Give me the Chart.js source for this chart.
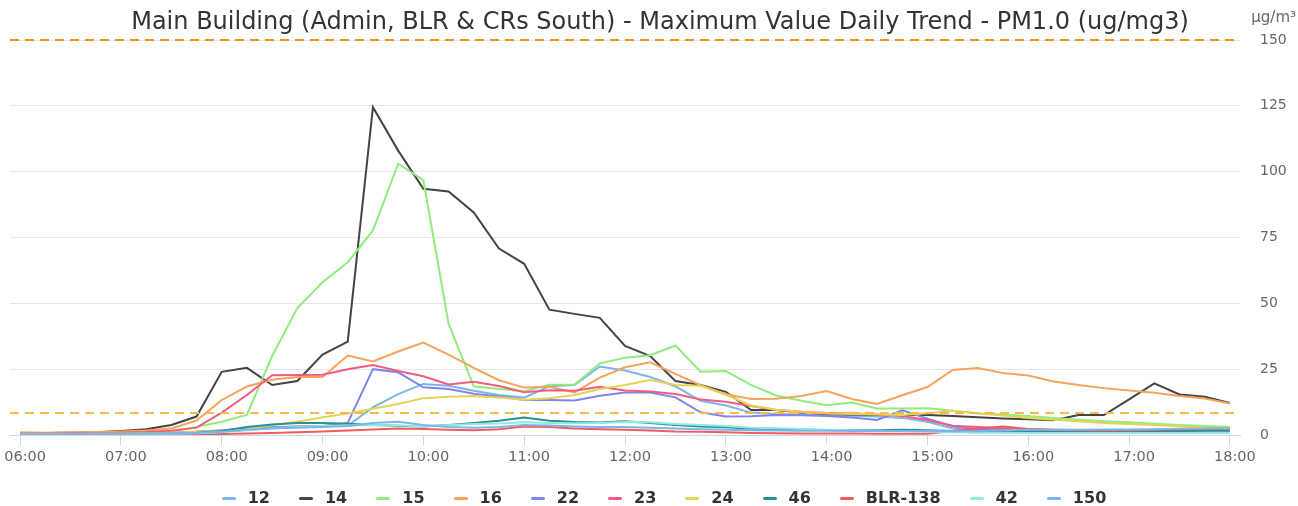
<!DOCTYPE html>
<html>
<head>
<meta charset="utf-8">
<title>PM1.0 Daily Trend</title>
<script src="https://cdn.jsdelivr.net/npm/chart.js@4.4.1/dist/chart.umd.min.js"></script>
<style>
  html, body { margin: 0; padding: 0; background: #fff; }
  #wrap { position: relative; width: 1298px; height: 506px; }
  #legend {
    position: absolute; left: 30px; right: 0; top: 489px;
    display: flex; justify-content: center; gap: 29px;
    font: bold 16px "DejaVu Sans", sans-serif; color: #333;
  }
  .item { display: flex; align-items: center; line-height: 18px; }
  .swatch { width: 14px; height: 3px; border-radius: 2px; margin-right: 12px; }
</style>
</head>
<body>
<div id="wrap">
  <canvas id="chart" width="1298" height="506"></canvas>
  <div id="legend"></div>
</div>
<script>
// 15 minute readings, 06:00 .. 18:00
const times = [
  '06:00','06:15','06:30','06:45','07:00','07:15','07:30','07:45',
  '08:00','08:15','08:30','08:45','09:00','09:15','09:30','09:45',
  '10:00','10:15','10:30','10:45','11:00','11:15','11:30','11:45',
  '12:00','12:15','12:30','12:45','13:00','13:15','13:30','13:45',
  '14:00','14:15','14:30','14:45','15:00','15:15','15:30','15:45',
  '16:00','16:15','16:30','16:45','17:00','17:15','17:30','17:45',
  '18:00'
];

const yTicks = [0, 25, 50, 75, 100, 125, 150];
const upperLimit = 150;
const lowerLimit = 8.5;

const sensor12 = [0.4,0.4,0.5,0.5,0.6,0.7,0.9,1.2, 1.8,2.5,3.0,3.2,3.3,3.6,10.5,15.5,
  19.4,18.7,16.8,15.2,14.2,18.5,19.0,26.0, 24.5,22.0,18.5,13.0,11.2,8.5,8.0,7.8,
  7.6,7.3,7.0,6.5,5.0,2.5,1.8,1.6, 1.5,1.4,1.4,1.4,1.4,1.5,1.6,1.7, 1.8];
const sensor14 = [0.8,0.8,0.9,1.0,1.5,2.2,3.8,7.0, 24.0,25.5,19.0,20.5,30.5,35.5,124.5,108.0,
  93.5,92.5,84.5,70.8,65.0,47.6,46.0,44.5, 33.8,30.0,20.5,19.0,16.4,9.5,9.5,8.5,
  8.0,7.8,7.6,7.6,7.6,7.2,6.7,6.3, 6.0,5.6,7.6,7.6,13.5,19.6,15.4,14.5, 12.2];
const sensor15 = [0.5,0.5,0.6,0.7,0.8,1.0,1.3,3.0, 5.0,7.6,30.0,48.2,58.0,65.6,77.7,103.0,
  96.8,42.3,18.5,17.5,16.6,19.1,19.2,27.2, 29.3,30.3,34.0,24.0,24.3,19.0,15.0,13.0,
  11.3,12.3,10.1,10.1,10.2,9.2,8.2,7.8, 7.2,6.5,5.8,5.2,4.8,4.3,3.8,3.4, 3.0];
const sensor16 = [1.0,0.9,1.0,1.1,1.3,1.7,2.5,5.5, 13.3,18.4,21.0,22.0,22.0,30.2,27.9,31.7,
  35.1,30.5,25.5,20.8,18.0,18.3,16.2,21.8, 25.7,27.6,23.2,18.9,15.5,13.7,13.8,14.8,
  16.7,13.7,11.8,15.1,18.2,24.7,25.4,23.5, 22.6,20.3,19.0,17.8,16.9,16.0,14.8,13.9, 12.0];
const sensor22 = [0.3,0.3,0.4,0.5,0.6,0.7,0.9,1.2, 1.6,2.2,2.8,3.2,3.4,4.6,25.0,23.8,
  18.1,17.5,15.7,14.6,13.3,13.3,13.1,14.9, 16.1,16.1,14.3,8.6,7.0,7.1,7.6,7.5,
  7.2,6.6,5.7,9.4,6.2,3.2,2.3,2.1, 2.0,1.9,1.8,1.8,1.8,1.9,2.0,2.1, 2.2];
const sensor23 = [0.5,0.5,0.6,0.7,0.9,1.1,1.6,2.8, 8.5,15.2,22.7,22.8,22.9,25.0,26.6,24.3,
  22.3,19.2,20.2,18.6,16.2,17.0,16.8,18.3, 16.9,16.5,15.6,13.5,12.6,11.0,9.5,8.8,
  8.4,8.2,7.8,7.2,5.7,3.5,3.0,2.6, 2.2,2.0,1.9,1.8,1.8,1.8,1.9,2.0, 2.0];
const sensor24 = [0.3,0.3,0.4,0.5,0.6,0.7,0.9,1.2, 1.6,2.2,3.8,5.0,6.7,8.2,10.0,11.8,
  14.0,14.5,14.8,14.2,13.4,14.0,15.2,17.5, 19.0,20.9,19.0,18.7,15.3,11.2,9.6,8.8,
  8.2,8.0,7.8,7.6,8.3,9.2,8.3,7.4, 6.5,5.8,5.2,4.6,4.2,3.8,3.3,2.8, 2.4];
const sensor46 = [0.2,0.2,0.3,0.3,0.4,0.5,0.6,0.9, 1.5,3.0,4.0,4.6,4.6,4.3,3.8,3.5,
  3.2,3.8,4.6,5.4,6.6,5.4,4.9,4.7, 5.2,4.6,3.8,3.2,2.9,2.4,2.2,2.0,
  1.9,1.9,1.8,2.0,1.8,1.5,1.4,1.4, 1.3,1.3,1.3,1.3,1.4,1.5,1.5,1.6, 1.6];
const sensorBLR138 = [0.1,0.1,0.1,0.2,0.2,0.2,0.3,0.3, 0.4,0.6,0.8,1.0,1.3,1.7,2.1,2.5,
  2.3,2.0,1.8,2.2,3.2,3.0,2.5,2.2, 2.0,1.7,1.3,1.2,1.0,0.8,0.7,0.6,
  0.6,0.6,0.5,0.5,0.5,1.5,2.5,3.2, 2.3,1.9,1.8,1.7,1.8,2.0,2.2,2.3, 2.4];
const sensor42 = [0.2,0.2,0.2,0.3,0.3,0.4,0.5,0.7, 1.0,1.8,2.5,3.0,3.4,3.6,3.8,3.6,
  3.3,3.8,4.2,4.4,4.8,4.6,4.5,4.6, 4.9,4.8,4.2,3.8,3.4,2.8,2.6,2.3,
  2.0,1.8,1.6,1.4,1.2,1.0,0.9,0.9, 0.8,0.8,0.8,0.8,0.8,0.8,0.8,0.8, 0.8];
const sensor150 = [0.2,0.2,0.3,0.3,0.4,0.5,0.6,0.8, 1.2,2.0,2.6,2.8,3.0,3.4,4.6,5.0,
  3.8,3.0,2.8,3.0,3.8,3.6,3.2,3.0, 3.0,2.8,2.5,2.2,2.0,1.8,1.7,1.6,
  1.6,1.5,1.5,1.5,1.5,1.4,1.4,1.8, 2.0,2.0,2.0,2.1,2.1,2.2,2.4,2.5, 2.5];

const seriesNames = ['12', '14', '15', '16', '22', '23', '24', '46', 'BLR-138', '42', '150'];
const seriesValues = [sensor12, sensor14, sensor15, sensor16, sensor22, sensor23,
  sensor24, sensor46, sensorBLR138, sensor42, sensor150];
const seriesColors = ['#7cb5ec', '#434348', '#90ed7d', '#f7a35c', '#8085e9', '#f15c80',
  '#e4d354', '#2b908f', '#f45b5b', '#91e8e1', '#7cb5ec'];

const FONT = '"DejaVu Sans", sans-serif';

// title, unit and the two dashed limit lines
const decorations = {
  id: 'decorations',
  afterDatasetsDraw(chart) {
    const {ctx, chartArea} = chart;
    const y = chart.scales.y;
    const limits = [[upperLimit, '#f5921e'], [lowerLimit, '#fdb84c']];
    ctx.save();
    ctx.lineWidth = 2;
    ctx.setLineDash([9, 6]);
    limits.forEach(([v, c]) => {
      const py = Math.round(y.getPixelForValue(v));
      ctx.strokeStyle = c;
      ctx.beginPath();
      ctx.moveTo(chartArea.left, py);
      ctx.lineTo(chartArea.right, py);
      ctx.stroke();
    });
    ctx.restore();
  },
  afterDraw(chart) {
    const {ctx} = chart;
    ctx.save();
    ctx.textBaseline = 'middle';
    ctx.fillStyle = '#333333';
    ctx.font = '24px ' + FONT;
    ctx.textAlign = 'center';
    ctx.fillText('Main Building (Admin, BLR & CRs South) - Maximum Value Daily Trend - PM1.0 (ug/mg3)', 660, 23);
    ctx.fillStyle = '#666666';
    ctx.font = '15px ' + FONT;
    ctx.textAlign = 'right';
    ctx.fillText('µg/m³', 1296, 18);
    ctx.restore();
  }
};

const datasets = seriesNames.map((name, i) => ({
  label: name,
  data: seriesValues[i].map((v, k) => ({x: k, y: v})),
  borderColor: seriesColors[i],
  backgroundColor: seriesColors[i],
  borderWidth: 2,
  pointRadius: 0,
  tension: 0,
  order: seriesNames.length - i
}));

new Chart(document.getElementById('chart'), {
  type: 'line',
  data: {datasets},
  options: {
    responsive: false,
    animation: false,
    devicePixelRatio: 1,
    layout: {padding: {left: 10, top: 40, right: 0, bottom: 41}},
    plugins: {legend: {display: false}, tooltip: {enabled: false}},
    scales: {
      x: {
        type: 'linear',
        min: -0.4,
        max: times.length - 0.6,
        afterFit: (s) => { s.height = 30; s.paddingLeft = 0; s.paddingRight = 0; },
        ticks: {
          stepSize: 4,
          includeBounds: false,
          autoSkip: false,
          maxRotation: 0,
          padding: 4,
          labelOffset: 5,
          color: '#666666',
          font: {family: FONT, size: 14.5},
          callback: (v) => times[v]
        },
        grid: {display: true, drawOnChartArea: false, drawTicks: true, tickLength: 10, color: '#ccd6eb'},
        border: {display: true, color: '#ccd6eb', width: 1}
      },
      y: {
        position: 'right',
        min: yTicks[0],
        max: yTicks[yTicks.length - 1],
        afterFit: (s) => { s.width = 58; },
        afterBuildTicks: (s) => { s.ticks = yTicks.map(v => ({value: v})); },
        ticks: {padding: 20, color: '#666666', font: {family: FONT, size: 14}},
        grid: {color: '#e6e6e6', drawTicks: false},
        border: {display: false}
      }
    }
  },
  plugins: [decorations]
});

// html legend under the chart
const legend = document.getElementById('legend');
seriesNames.forEach((name, i) => {
  const item = document.createElement('div');
  item.className = 'item';
  const sw = document.createElement('span');
  sw.className = 'swatch';
  sw.style.background = seriesColors[i];
  const label = document.createElement('span');
  label.textContent = name;
  item.appendChild(sw);
  item.appendChild(label);
  legend.appendChild(item);
});
</script>
</body>
</html>
